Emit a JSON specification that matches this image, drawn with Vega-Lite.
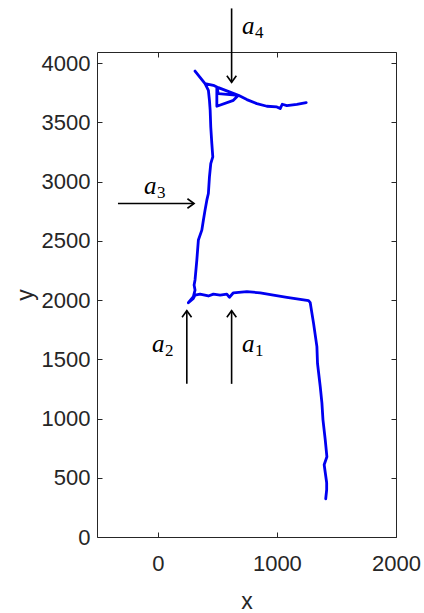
{
  "$schema": "https://vega.github.io/schema/vega-lite/v6.json",
  "width": 299,
  "height": 485,
  "autosize": {"type": "none"},
  "padding": {"left": 97, "top": 52, "right": 28, "bottom": 76},
  "config": {
    "view": {"stroke": "#262626", "strokeWidth": 1},
    "font": "Liberation Sans",
    "axis": {
      "domain": false,
      "grid": false,
      "tickSize": -5,
      "tickColor": "#262626",
      "tickWidth": 1,
      "format": "d",
      "labelColor": "#262626",
      "labelFont": "Liberation Sans",
      "labelFontSize": 22,
      "labelOverlap": false,
      "labelFlush": false,
      "labelBound": false,
      "titleColor": "#262626",
      "titleFont": "Liberation Sans",
      "titleFontSize": 23,
      "titleFontWeight": "normal"
    }
  },
  "datasets": {
    "path": [
      {"i": 1, "x": 1410, "y": 323},
      {"i": 2, "x": 1418, "y": 399},
      {"i": 3, "x": 1418, "y": 458},
      {"i": 4, "x": 1397, "y": 610},
      {"i": 5, "x": 1420, "y": 677},
      {"i": 6, "x": 1406, "y": 820},
      {"i": 7, "x": 1387, "y": 989},
      {"i": 8, "x": 1378, "y": 1132},
      {"i": 9, "x": 1364, "y": 1270},
      {"i": 10, "x": 1341, "y": 1467},
      {"i": 11, "x": 1336, "y": 1607},
      {"i": 12, "x": 1308, "y": 1804},
      {"i": 13, "x": 1280, "y": 1978},
      {"i": 14, "x": 1266, "y": 1995},
      {"i": 15, "x": 1196, "y": 2007},
      {"i": 16, "x": 1084, "y": 2024},
      {"i": 17, "x": 971, "y": 2043},
      {"i": 18, "x": 860, "y": 2062},
      {"i": 19, "x": 748, "y": 2071},
      {"i": 20, "x": 635, "y": 2062},
      {"i": 21, "x": 602, "y": 2024},
      {"i": 22, "x": 580, "y": 2051},
      {"i": 23, "x": 524, "y": 2043},
      {"i": 24, "x": 467, "y": 2051},
      {"i": 25, "x": 425, "y": 2035},
      {"i": 26, "x": 355, "y": 2051},
      {"i": 27, "x": 313, "y": 2043},
      {"i": 28, "x": 299, "y": 2015},
      {"i": 29, "x": 257, "y": 1978},
      {"i": 30, "x": 299, "y": 2029},
      {"i": 31, "x": 313, "y": 2085},
      {"i": 32, "x": 305, "y": 2127},
      {"i": 33, "x": 313, "y": 2170},
      {"i": 34, "x": 328, "y": 2338},
      {"i": 35, "x": 341, "y": 2507},
      {"i": 36, "x": 370, "y": 2591},
      {"i": 37, "x": 383, "y": 2675},
      {"i": 38, "x": 397, "y": 2760},
      {"i": 39, "x": 412, "y": 2844},
      {"i": 40, "x": 425, "y": 2900},
      {"i": 41, "x": 434, "y": 3040},
      {"i": 42, "x": 445, "y": 3153},
      {"i": 43, "x": 462, "y": 3209},
      {"i": 44, "x": 454, "y": 3322},
      {"i": 45, "x": 445, "y": 3462},
      {"i": 46, "x": 440, "y": 3603},
      {"i": 47, "x": 434, "y": 3687},
      {"i": 48, "x": 425, "y": 3772},
      {"i": 49, "x": 397, "y": 3828},
      {"i": 50, "x": 313, "y": 3934},
      {"i": 51, "x": 397, "y": 3828},
      {"i": 52, "x": 467, "y": 3814},
      {"i": 53, "x": 509, "y": 3794},
      {"i": 54, "x": 677, "y": 3729},
      {"i": 55, "x": 509, "y": 3744},
      {"i": 56, "x": 496, "y": 3794},
      {"i": 57, "x": 496, "y": 3637},
      {"i": 58, "x": 635, "y": 3687},
      {"i": 59, "x": 677, "y": 3729},
      {"i": 60, "x": 748, "y": 3693},
      {"i": 61, "x": 832, "y": 3659},
      {"i": 62, "x": 916, "y": 3637},
      {"i": 63, "x": 1000, "y": 3631},
      {"i": 64, "x": 1028, "y": 3617},
      {"i": 65, "x": 1045, "y": 3654},
      {"i": 66, "x": 1084, "y": 3642},
      {"i": 67, "x": 1168, "y": 3653},
      {"i": 68, "x": 1246, "y": 3668}
    ],
    "arrows": [
      {"name": "a4", "x": 620, "y": 4463, "x2": 620, "y2": 3839, "dir": "down"},
      {"name": "a3", "x": -334, "y": 2816, "x2": 305, "y2": 2816, "dir": "right"},
      {"name": "a2", "x": 244, "y": 1293, "x2": 244, "y2": 1911, "dir": "up"},
      {"name": "a1", "x": 620, "y": 1293, "x2": 620, "y2": 1911, "dir": "up"}
    ],
    "labels": [
      {"x": 708, "y": 4250, "base": "a", "sub": "4"},
      {"x": -115, "y": 2900, "base": "a", "sub": "3"},
      {"x": -48, "y": 1565, "base": "a", "sub": "2"},
      {"x": 708, "y": 1565, "base": "a", "sub": "1"}
    ]
  },
  "resolve": {"axis": {"x": "independent", "y": "independent"}},
  "layer": [
    {
      "data": {"name": "path"},
      "mark": {"type": "line", "color": "#0000f0", "strokeWidth": 2.8, "strokeJoin": "round", "strokeCap": "round"},
      "encoding": {
        "x": {"field": "x", "type": "quantitative", "scale": {"domain": [-510, 2000], "nice": false, "zero": false},
              "axis": {"orient": "bottom", "values": [0, 1000, 2000], "title": "x", "labelPadding": 21, "titlePadding": 16}},
        "y": {"field": "y", "type": "quantitative", "scale": {"domain": [0, 4095], "nice": false, "zero": false},
              "axis": {"orient": "left", "values": [0, 500, 1000, 1500, 2000, 2500, 3000, 3500, 4000], "title": "y", "labelPadding": 12, "titlePadding": 4}},
        "order": {"field": "i", "type": "quantitative"}
      }
    },
    {
      "data": {"name": "arrows"},
      "mark": {"type": "rule", "color": "black", "strokeWidth": 1.6},
      "encoding": {
        "x": {"field": "x", "type": "quantitative",
              "axis": {"orient": "top", "values": [0, 1000, 2000], "labels": false, "title": null}},
        "y": {"field": "y", "type": "quantitative",
              "axis": {"orient": "right", "values": [0, 500, 1000, 1500, 2000, 2500, 3000, 3500, 4000], "labels": false, "title": null}},
        "x2": {"field": "x2"},
        "y2": {"field": "y2"}
      }
    },
    {
      "data": {"name": "arrows"},
      "mark": {"type": "point", "filled": false, "stroke": "black", "strokeWidth": 1.6, "opacity": 1, "size": 90},
      "encoding": {
        "x": {"field": "x2", "type": "quantitative", "axis": null},
        "y": {"field": "y2", "type": "quantitative", "axis": null},
        "shape": {"field": "dir", "type": "nominal", "legend": null,
                  "scale": {"domain": ["down", "up", "right"],
                            "range": ["M-1,-1.4L0,0L1,-1.4", "M-1,1.4L0,0L1,1.4", "M-1.4,-1L0,0L-1.4,1"]}}
      }
    },
    {
      "data": {"name": "labels"},
      "mark": {"type": "text", "font": "Liberation Serif", "fontStyle": "italic", "fontSize": 25, "align": "left", "baseline": "alphabetic", "color": "black"},
      "encoding": {
        "x": {"field": "x", "type": "quantitative", "axis": null},
        "y": {"field": "y", "type": "quantitative", "axis": null},
        "text": {"field": "base"}
      }
    },
    {
      "data": {"name": "labels"},
      "mark": {"type": "text", "font": "Liberation Serif", "fontSize": 17, "align": "left", "baseline": "alphabetic", "dx": 13, "dy": 4, "color": "black"},
      "encoding": {
        "x": {"field": "x", "type": "quantitative", "axis": null},
        "y": {"field": "y", "type": "quantitative", "axis": null},
        "text": {"field": "sub"}
      }
    }
  ]
}
